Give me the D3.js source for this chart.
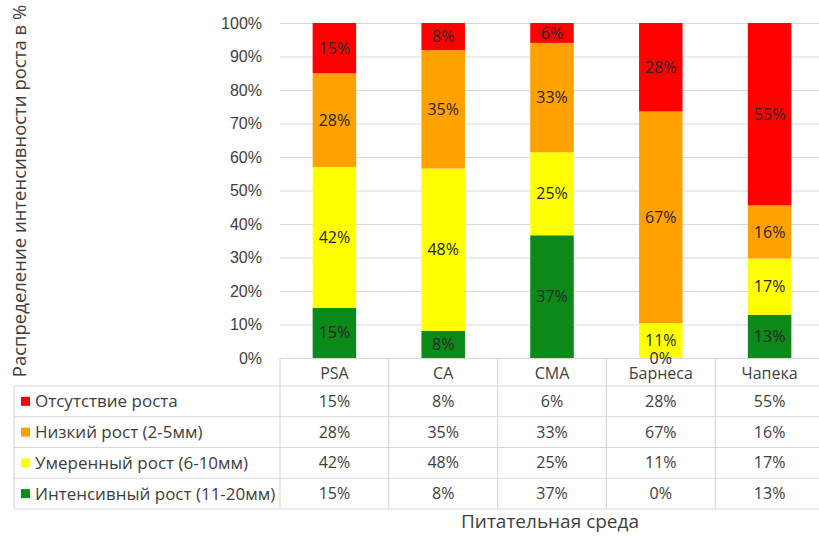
<!DOCTYPE html>
<html>
<head>
<meta charset="utf-8">
<script src="https://cdn.jsdelivr.net/npm/d3@7"></script>
<style>
  html, body { margin: 0; padding: 0; background: #fff; }
  svg { display: block; font-family: "Open Sans", "Noto Sans", sans-serif; }
</style>
</head>
<body>
<svg id="chart" width="819" height="537"></svg>
<script>
// Growth-intensity distribution per nutrient medium (100% stacked columns + data table)
const media = ["PSA", "CA", "CMA", "Барнеса", "Чапека"];
const seriesNames = [
  "Отсутствие роста",
  "Низкий рост (2-5мм)",
  "Умеренный рост (6-10мм)",
  "Интенсивный рост (11-20мм)"
];
const seriesKeys = ["none", "low", "moderate", "intense"];
const noneGrowth     = [15, 8, 6, 28, 55];
const lowGrowth      = [28, 35, 33, 67, 16];
const moderateGrowth = [42, 48, 25, 11, 17];
const intenseGrowth  = [15, 8, 37, 0, 13];
const seriesColors = ["#ff0000", "#ffa200", "#ffff00", "#0b8a1a"];
const yTicks = [0, 0.1, 0.2, 0.3, 0.4, 0.5, 0.6, 0.7, 0.8, 0.9, 1];

const seriesValues = [noneGrowth, lowGrowth, moderateGrowth, intenseGrowth];
const rows = media.map((m, i) => {
  const r = { medium: m };
  seriesKeys.forEach((k, s) => { r[k] = seriesValues[s][i]; });
  return r;
});

const svg = d3.select("#chart");
const W = 819;
const plotTop = 23, plotBottom = 358;
const colLeft = 280, colRight = 824;
const tableLeft = 14;
const headerH = 28, rowH = 30.75;

const x = d3.scaleBand().domain(media).range([colLeft, colRight])
  .paddingInner(0.6).paddingOuter(0.3);
const col = d3.scaleBand().domain(media).range([colLeft, colRight]);
const y = d3.scaleLinear().domain([0, 1]).range([plotBottom, plotTop]);
const color = d3.scaleOrdinal().domain(seriesKeys).range(seriesColors);

const gridColor = "#d9d9d9";
const textColor = "#404040";

// gridlines + left axis labels
const yAxis = d3.axisLeft(y).tickValues(yTicks).tickFormat(d3.format(".0%"))
  .tickSize(-(W - colLeft)).tickPadding(18);
const gy = svg.append("g").attr("transform", `translate(${colLeft},0)`).call(yAxis);
gy.select(".domain").remove();
gy.selectAll(".tick line").attr("stroke", gridColor).attr("stroke-width", 1.2);
gy.selectAll(".tick text").attr("fill", textColor).style("font-size", "16px");

// stacked columns, stacked bottom-up: intense, moderate, low, none
const stackOrder = ["intense", "moderate", "low", "none"];
const stacked = d3.stack().keys(stackOrder).offset(d3.stackOffsetExpand)(rows);

const layers = svg.append("g").selectAll("g").data(stacked).join("g")
  .attr("fill", d => color(d.key));
layers.selectAll("rect").data(d => d).join("rect")
  .attr("x", d => x(d.data.medium))
  .attr("width", x.bandwidth())
  .attr("y", d => y(d[1]))
  .attr("height", d => y(d[0]) - y(d[1]));

// value labels centred in each segment
const labels = svg.append("g").style("font-size", "16px").attr("fill", "#262626")
  .attr("text-anchor", "middle");
stacked.forEach(layer => {
  labels.selectAll(null).data(layer).join("text")
    .attr("x", d => x(d.data.medium) + x.bandwidth() / 2)
    .attr("y", d => (y(d[0]) + y(d[1])) / 2)
    .attr("dy", "0.35em")
    .text(d => d.data[layer.key] + "%");
});

// data table under the plot
const tableBottom = plotBottom + headerH + rowH * seriesKeys.length;
const tg = svg.append("g");
const rowTop = i => plotBottom + headerH + rowH * i;

// horizontal rules
for (let i = 0; i <= seriesKeys.length; i++) {
  tg.append("line").attr("x1", tableLeft).attr("x2", W)
    .attr("y1", rowTop(i)).attr("y2", rowTop(i))
    .attr("stroke", gridColor).attr("stroke-width", 1.2);
}
// vertical rules
media.forEach(m => {
  tg.append("line").attr("x1", col(m)).attr("x2", col(m))
    .attr("y1", plotBottom).attr("y2", tableBottom)
    .attr("stroke", gridColor).attr("stroke-width", 1.2);
});
tg.append("line").attr("x1", tableLeft).attr("x2", tableLeft)
  .attr("y1", rowTop(0)).attr("y2", tableBottom)
  .attr("stroke", gridColor).attr("stroke-width", 1.2);

// header: medium names
tg.selectAll(".hdr").data(media).join("text")
  .attr("x", d => col(d) + col.bandwidth() / 2)
  .attr("y", plotBottom + headerH / 2 + 1)
  .attr("dy", "0.35em").attr("text-anchor", "middle")
  .attr("fill", textColor).style("font-size", "16px")
  .text(d => d);

// rows: legend key + values
seriesKeys.forEach((k, i) => {
  const cy = rowTop(i) + rowH / 2;
  tg.append("rect").attr("x", 21).attr("y", cy - 4.5).attr("width", 9).attr("height", 9)
    .attr("fill", color(k));
  tg.append("text").attr("x", 35).attr("y", cy).attr("dy", "0.35em")
    .attr("fill", textColor).style("font-size", "17px").text(seriesNames[i]);
  tg.selectAll(null).data(rows).join("text")
    .attr("x", d => col(d.medium) + col.bandwidth() / 2)
    .attr("y", cy).attr("dy", "0.35em").attr("text-anchor", "middle")
    .attr("fill", textColor).style("font-size", "16px")
    .text(d => d[k] + "%");
});

// axis titles
svg.append("text").attr("x", 550).attr("y", 528).attr("text-anchor", "middle")
  .attr("fill", textColor).style("font-size", "19px").text("Питательная среда");
svg.append("text").attr("transform", "translate(20,191) rotate(-90)")
  .attr("text-anchor", "middle").attr("dy", "0.35em")
  .attr("fill", textColor).style("font-size", "18.5px")
  .text("Распределение интенсивности роста в %");
</script>
</body>
</html>
